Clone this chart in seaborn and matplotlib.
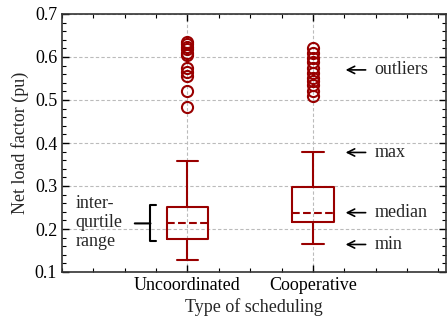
import numpy as np
import matplotlib.pyplot as plt
import seaborn as sns
from matplotlib.ticker import MultipleLocator

categories = ['Uncoordinated', 'Cooperative']
whislo = [0.129, 0.164]
q1 = [0.177, 0.216]
med = [0.213, 0.238]
q3 = [0.252, 0.298]
whishi = [0.358, 0.378]
fliers = [
    [0.636, 0.630, 0.624, 0.618, 0.610, 0.604, 0.574, 0.566, 0.556, 0.522, 0.484],
    [0.620, 0.610, 0.598, 0.588, 0.575, 0.562, 0.552, 0.545, 0.535, 0.522, 0.510],
]

sns.set_style('ticks')
plt.rcParams['font.family'] = ['Liberation Serif', 'DejaVu Serif']
plt.rcParams['font.size'] = 13

red = '#990000'
stats = []
for i, name in enumerate(categories):
    stats.append({'label': name, 'whislo': whislo[i], 'q1': q1[i], 'med': med[i],
                  'q3': q3[i], 'whishi': whishi[i], 'fliers': fliers[i]})

fig = plt.figure(figsize=(4.48, 3.21), dpi=100)
ax = fig.add_axes([62 / 448, 1 - 272 / 321, (446 - 62) / 448, (272 - 14) / 321])
ax.grid(True, color='#bbbbbb', linestyle='--', linewidth=0.8, dashes=(3, 2))
ax.set_axisbelow(True)
ax.bxp(stats, positions=[0, 1], widths=0.33, capwidths=0.17,
       boxprops=dict(color=red, linewidth=1.5),
       whiskerprops=dict(color=red, linewidth=1.5),
       capprops=dict(color=red, linewidth=1.5),
       medianprops=dict(color=red, linewidth=1.5, linestyle='--'),
       flierprops=dict(marker='o', markerfacecolor='none', markeredgecolor=red,
                       markersize=8, markeredgewidth=1.5))

ax.set_xlim(-1, 2.06)
ax.set_ylim(0.1, 0.7)
ax.set_xticks([0, 1])
ax.set_xticklabels(categories)
ax.xaxis.set_minor_locator(MultipleLocator(0.25))
ax.yaxis.set_major_locator(MultipleLocator(0.1))
ax.yaxis.set_minor_locator(MultipleLocator(0.02))
ax.tick_params(which='both', direction='in', top=True, right=True, colors='black', labelsize=13)
ax.tick_params(which='major', length=5, width=1)
ax.tick_params(which='minor', length=3, width=0.8)
for s in ax.spines.values():
    s.set_color('#333333')
    s.set_linewidth(1.2)

ax.set_xlabel('Type of scheduling', fontsize=13, labelpad=3)
ax.set_ylabel('Net load factor (pu)', fontsize=13, labelpad=4)

notes = [('outliers', 0.57), ('max', whishi[1]), ('median', med[1]), ('min', whislo[1])]
for txt, yv in notes:
    ax.annotate(txt, xy=(1.26, yv), xytext=(1.49, yv), va='center', ha='left', fontsize=13,
                arrowprops=dict(arrowstyle='->', color='black', lw=1.2, shrinkA=4, shrinkB=0))

ax.annotate('', xy=(-0.295, med[0]), xytext=(-0.42, med[0]),
            arrowprops=dict(arrowstyle='-[, widthB=0.65, lengthB=0.2', color='black', lw=1.5,
                            shrinkA=0, shrinkB=0, mutation_scale=20))
ax.text(-0.89, med[0] + 0.002, 'inter-\nqurtile\nrange', ha='left', va='center', fontsize=13,
        linespacing=1.12)

plt.savefig('out.png', dpi=100)
